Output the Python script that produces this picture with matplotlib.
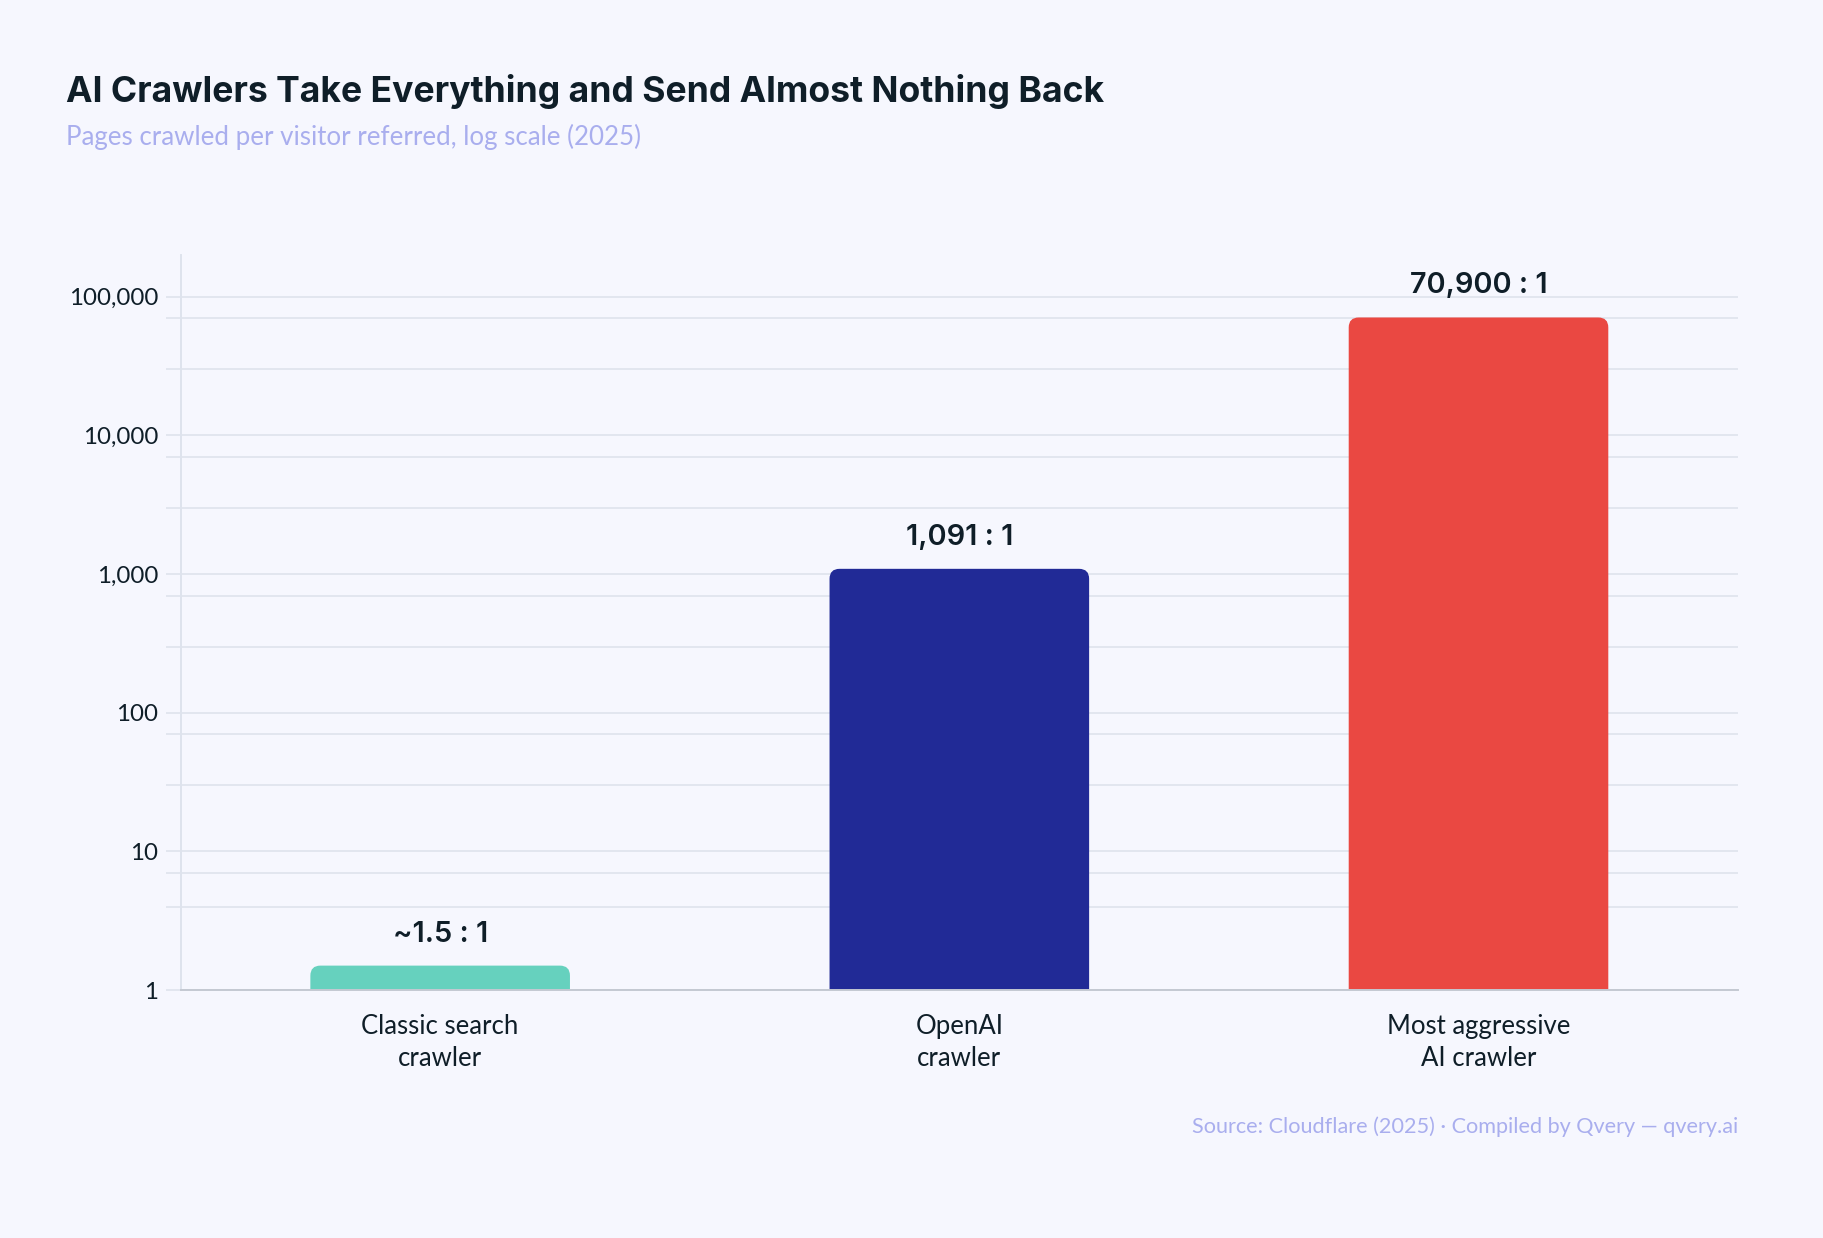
import matplotlib
matplotlib.use("Agg")
import matplotlib.pyplot as plt
from matplotlib.patches import FancyBboxPatch
from matplotlib.ticker import FixedLocator, FuncFormatter

# data
categories = ["Classic search\ncrawler", "OpenAI\ncrawler", "Most aggressive\nAI crawler"]
ratios = [1.5, 1091, 70900]
value_labels = ["~1.5 : 1", "1,091 : 1", "70,900 : 1"]
colors = ["#66D1BE", "#212A96", "#EA4842"]
major_ticks = [1, 10, 100, 1000, 10000, 100000]
minor_ticks = [4, 7, 30, 70, 300, 700, 3000, 7000, 30000, 70000]

bg = "#F6F7FE"
grid_col = "#DEE3ED"
dark = "#0F1E28"
soft = "#A9AEEE"

fig = plt.figure(figsize=(18.24, 12.38), dpi=100, facecolor=bg)
ax = fig.add_axes([0.099, 0.2003, 0.8539, 0.5937], facecolor=bg)

ax.set_yscale("log")
ax.set_ylim(1, 2e5)
ax.set_xlim(-0.5, len(categories) - 0.5)

# grid
ax.yaxis.set_major_locator(FixedLocator(major_ticks))
ax.yaxis.set_minor_locator(FixedLocator(minor_ticks))
ax.yaxis.set_major_formatter(FuncFormatter(lambda v, p: f"{int(v):,}"))
ax.yaxis.set_minor_formatter(FuncFormatter(lambda v, p: ""))
ax.grid(True, which="both", axis="y", color=grid_col, lw=1.2, zorder=0)
ax.set_axisbelow(True)
ax.tick_params(axis="y", which="both", length=11, width=1.2, color=grid_col,
               labelsize=17.4, labelcolor=dark, pad=5)
for lab in ax.get_yticklabels():
    lab.set_fontfamily("Lato")

ax.set_xticks(range(len(categories)))
ax.set_xticklabels(categories, fontsize=18.5, color=dark, family="Lato", linespacing=1.35)
ax.tick_params(axis="x", length=0, pad=17)

for s in ["top", "right"]:
    ax.spines[s].set_visible(False)
ax.spines["left"].set_color(grid_col)
ax.spines["left"].set_linewidth(1.4)
ax.spines["bottom"].set_color("#C4C9D2")
ax.spines["bottom"].set_linewidth(1.4)
ax.spines["bottom"].set_zorder(5)

# rounded-top bars, built in pixel space from data coords
fig.canvas.draw()
bw = 0.5
radius = 10
for i, (v, c) in enumerate(zip(ratios, colors)):
    (x0, y0) = ax.transData.transform((i - bw / 2, 1))
    (x1, y1) = ax.transData.transform((i + bw / 2, v))
    p = FancyBboxPatch((x0, y0 - 30), x1 - x0, y1 - y0 + 30,
                       boxstyle=f"round,pad=0,rounding_size={radius}",
                       transform=None, facecolor=c, edgecolor="none", zorder=3)
    p.set_clip_path(ax.patch)
    ax.add_artist(p)
    ax.annotate(value_labels[i], (i, v), xytext=(0, 13), textcoords="offset points",
                ha="center", va="bottom", fontsize=20.8, fontweight="semibold",
                family="Inter", color=dark)

fig.text(66 / 1824, 1 - 102 / 1238, "AI Crawlers Take Everything and Send Almost Nothing Back",
         fontsize=25.6, fontweight="bold", family="Inter", color=dark, ha="left", va="baseline")
fig.text(66 / 1824, 1 - 145 / 1238, "Pages crawled per visitor referred, log scale (2025)",
         fontsize=18.6, family="Lato", color=soft, ha="left", va="baseline")
fig.text(1738 / 1824, 1 - 1133 / 1238, "Source: Cloudflare (2025) \u00b7 Compiled by Qvery \u2014 qvery.ai",
         fontsize=15.6, family="Lato", color=soft, ha="right", va="baseline")

fig.savefig("out.png", dpi=100, facecolor=bg)
